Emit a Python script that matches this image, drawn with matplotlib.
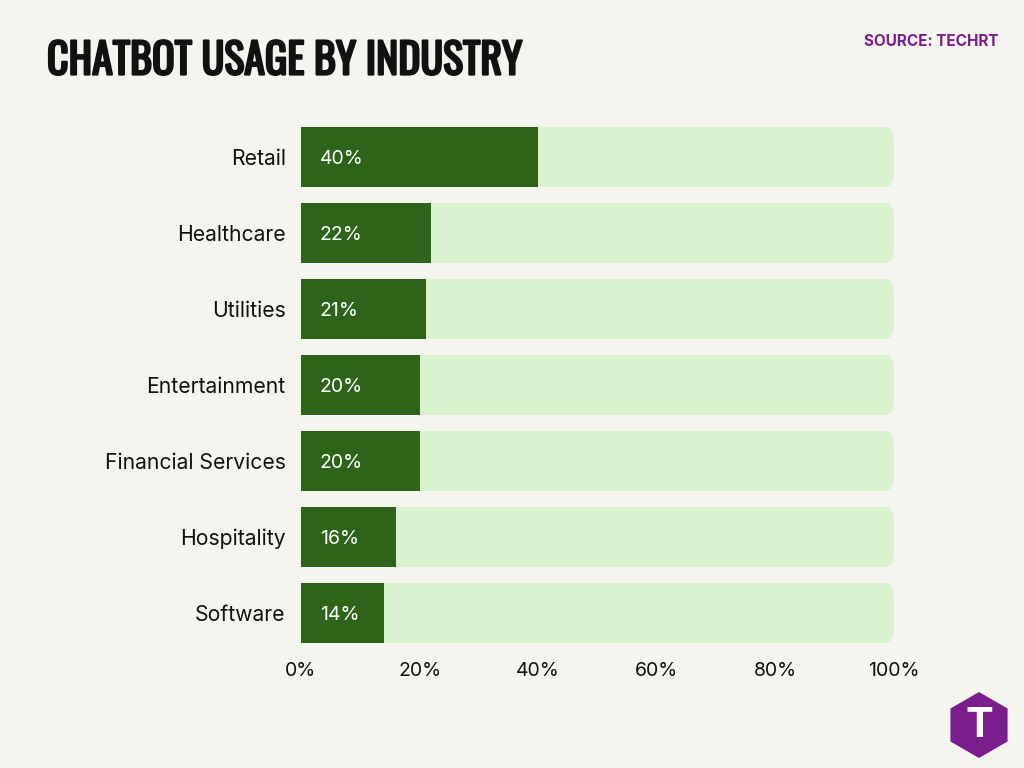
import matplotlib.pyplot as plt
import matplotlib.patheffects as pe
from matplotlib import font_manager
from matplotlib.patches import FancyBboxPatch, RegularPolygon

# -----------------------------
# Data
# -----------------------------
industries = ["Retail", "Healthcare", "Utilities", "Entertainment",
              "Financial Services", "Hospitality", "Software"]
usage = [40, 22, 21, 20, 20, 16, 14]
xticks = [0, 20, 40, 60, 80, 100]

BG = "#F5F5F0"
DARK = "#2E641A"
LIGHT = "#D9F3CF"
PURPLE = "#7A1E8E"

plt.rcParams["font.family"] = ["Inter", "DejaVu Sans"]

# pick a condensed font for the title if one is around
names = {f.name for f in font_manager.fontManager.ttflist}
title_font, title_size = "Roboto", 27
for cand, size in [("Oswald", 30.2), ("Bebas Neue", 40),
                   ("Roboto Condensed", 30), ("DejaVu Sans Condensed", 26),
                   ("Liberation Sans Narrow", 30)]:
    if cand in names:
        title_font, title_size = cand, size
        break

fig = plt.figure(figsize=(10.24, 7.68), dpi=100, facecolor=BG)
ax = fig.add_axes([301 / 1024, 117 / 768, 593 / 1024, 532 / 768])
ax.set_facecolor(BG)

bar_h = 60 / 76
for i, (name, val) in enumerate(zip(industries, usage)):
    # light background track, rounded on the right end
    track = FancyBboxPatch((-6, i - bar_h / 2), 106, bar_h,
                           boxstyle="round,pad=0,rounding_size=1.6",
                           mutation_aspect=0.12,
                           facecolor=LIGHT, edgecolor="none", zorder=1)
    ax.add_patch(track)
    ax.barh(i, val, height=bar_h, color=DARK, zorder=2)
    ax.text(3.2, i + 0.02, f"{val}%", color="white", fontsize=14,
            va="center", ha="left", zorder=3)

ax.set_xlim(0, 100)
ax.set_ylim(len(industries) - 0.5, -0.5)
ax.set_yticks(range(len(industries)))
ax.set_yticklabels(industries, fontsize=15.2, color="#111111")
ax.set_xticks(xticks)
ax.set_xticklabels([f"{t}%" for t in xticks], fontsize=14, color="#111111")
ax.tick_params(length=0)
ax.tick_params(axis="y", pad=11)
ax.tick_params(axis="x", pad=8)
for s in ax.spines.values():
    s.set_visible(False)

fig.text(47 / 1024, 1 - 61 / 768, "CHATBOT USAGE BY INDUSTRY",
         fontsize=title_size, fontweight="bold", family=title_font,
         color="#111111", va="center", ha="left",
         path_effects=[pe.withStroke(linewidth=1.6, foreground="#111111")])
fig.text(999 / 1024, 1 - 41 / 768, "SOURCE: TECHRT", fontsize=11,
         fontweight="bold", color=PURPLE, va="center", ha="right")

# logo
lax = fig.add_axes([940 / 1024, 0, 84 / 1024, 84 / 768])
lax.set_xlim(0, 84)
lax.set_ylim(0, 84)
lax.set_aspect("equal")
lax.axis("off")
lax.add_patch(RegularPolygon((39, 43), 6, radius=33, orientation=0,
                             facecolor=PURPLE, edgecolor="none"))
lax.text(39, 42, "T", color="white", fontsize=30, fontweight="bold",
         ha="center", va="center")

fig.savefig("out.png", dpi=100, facecolor=BG)
